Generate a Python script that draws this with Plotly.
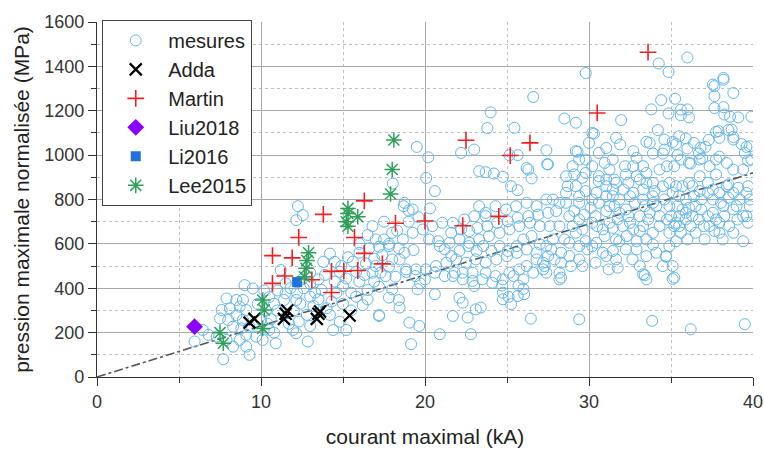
import plotly.graph_objects as go

# --- data (courant kA, pression MPa) ---

mesures = [
    # haut droite
    (34.25, 1413), (34.85, 1375), (36.0, 1440), (38.2, 1340), (37.65, 1311), (37.65, 1266),
    (38.8, 1280), (34.4, 1248), (35.25, 1254), (33.8, 1206), (36.0, 1206), (37.65, 1212),
    (38.2, 1216), (34.85, 1188), (35.6, 1180), (29.8, 1370), (26.6, 1262), (28.5, 1165),
    (29.2, 1146), (25.45, 1123), (31.96, 1158), (30.3, 1097), (30.0, 1055), (27.4, 1022),
    (27.45, 959), (26.3, 935), (29.3, 1015), (26.5, 895), (36.1, 1170), (38.6, 1173),
    (39.1, 1170), (39.9, 1173), (34.2, 1113), (35.1, 1060), (33.5, 1060), (33.9, 1007),
    (34.5, 1007), (35.9, 1075), (36.0, 1030), (36.7, 1007), (37.3, 1068), (37.75, 1105),
    (38.5, 1113), (38.8, 1082), (39.3, 1050), (39.6, 1037), (37.95, 993), (37.1, 1037),
    (35.3, 1050), (35.4, 1000), (36.2, 962), (36.9, 985), (37.55, 1318), (38.2, 1348),
    (38.25, 1183), (35.6, 1205), (38.7, 1115), (37.9, 1108), (37.95, 1078), (38.8, 1070),
    (39.5, 1010), (39.8, 1040), (39.9, 980), (24.0, 1193), (23.8, 1122), (30.2, 1100),
    (31.65, 1078), (31.05, 1032), (31.9, 1048), (32.7, 1018), (33.7, 1055), (34.6, 1070),
    (35.5, 1085), (36.4, 1055), (36.8, 1033), (34.6, 1025),
    # 18-40 kA, 800-1040 MPa
    (19.5, 1037), (20.2, 990), (23.0, 1025), (22.2, 1010), (27.5, 958), (26.2, 942),
    (24.75, 902), (25.25, 860), (25.65, 842), (23.3, 928), (23.7, 923), (24.2, 917),
    (20.07, 897), (20.6, 838), (29.2, 1018), (29.4, 980), (29.8, 980), (29.0, 950),
    (30.2, 950), (30.6, 1010), (30.95, 965), (31.45, 980), (31.25, 935), (32.2, 950),
    (32.7, 950), (32.9, 988), (33.3, 950), (33.5, 920), (28.6, 905), (29.6, 898),
    (30.6, 883), (31.05, 890), (31.65, 875), (32.4, 875), (33.1, 890), (33.9, 875),
    (34.3, 935), (34.75, 950), (35.2, 950), (35.6, 980), (36.1, 965), (36.75, 980),
    (37.35, 950), (37.75, 980), (38.4, 965), (38.8, 935), (39.4, 935), (39.7, 975),
    (18.04, 872), (25.15, 1000), (25.65, 1000),
    # amas 34-40 kA
    (34.9, 875), (35.3, 860), (35.7, 860), (36.1, 875), (35.1, 830), (35.5, 815),
    (35.9, 800), (35.4, 770), (35.7, 755), (36.1, 763), (36.5, 770), (35.5, 725),
    (35.9, 710), (36.3, 725), (35.5, 680), (36.2, 680), (36.7, 710), (37.0, 680),
    (36.85, 800), (37.25, 830), (37.55, 800), (37.95, 830), (38.4, 860), (38.8, 830),
    (39.2, 800), (39.6, 830), (39.8, 770), (39.4, 725), (38.8, 755), (38.2, 770),
    (37.55, 740), (37.65, 658), (38.15, 620), (37.95, 650), (39.7, 695), (37.25, 875),
    (37.75, 913), (36.75, 905), (38.5, 868),
    (35.3, 612), (35.2, 680), (35.6, 650), (36.0, 620), (36.5, 650), (37.05, 620),
    (37.35, 680), (37.95, 695), (38.55, 680), (39.05, 710), (39.6, 725), (38.8, 650),
    (39.4, 612), (38.5, 808), (39.1, 853), (39.7, 860), (39.8, 800), (39.0, 770),
    (36.85, 755), (37.25, 725), (37.75, 710), (38.25, 725), (34.9, 770), (35.0, 725),
    (35.3, 695), (35.9, 740), (36.4, 815), (36.3, 860), (36.75, 838), (37.55, 845),
    (38.05, 785), (34.9, 650), (34.9, 590),
    # 28-35 kA
    (28.6, 830), (29.2, 860), (29.8, 838), (30.45, 830), (31.05, 860), (31.45, 815),
    (32.1, 845), (32.7, 830), (33.3, 845), (33.9, 815), (29.4, 785), (30.1, 763),
    (30.6, 785), (31.25, 770), (31.85, 740), (32.4, 725), (33.1, 725), (33.7, 740),
    (34.3, 725), (34.75, 710), (28.8, 725), (29.4, 710), (30.2, 695), (30.85, 665),
    (31.45, 672), (32.05, 680), (32.7, 665), (33.3, 680), (33.9, 650), (28.2, 680),
    (28.5, 620), (29.2, 650), (29.8, 612), (30.45, 605), (30.95, 635), (31.65, 620),
    (32.3, 635), (32.9, 612), (33.5, 620), (33.9, 597), (28.8, 545), (29.4, 530),
    (29.9, 575), (30.85, 560), (31.45, 568), (31.75, 493), (32.9, 575), (33.3, 463),
    (33.5, 440), (34.7, 545), (35.1, 500), (35.2, 448), (28.2, 470), (28.3, 448),
    (29.4, 260), (26.45, 263), (33.85, 253), (36.2, 215), (39.5, 238),
    (33.4, 459), (35.1, 442), (34.7, 542),
    (28.6, 785), (29.1, 748), (29.7, 732), (30.4, 725), (31.05, 748), (31.55, 770),
    (32.25, 755), (32.8, 785), (33.4, 770), (34.1, 770), (34.6, 800), (34.5, 860),
    (34.0, 838), (31.55, 890), (32.25, 913), (32.9, 905), (33.5, 875), (30.6, 905),
    (29.8, 920), (29.1, 913), (28.7, 860), (31.45, 845), (29.4, 815), (30.2, 800),
    (31.05, 815), (31.85, 800), (32.5, 815), (33.3, 800), (33.9, 785), (29.0, 680),
    (29.6, 665), (30.5, 680), (31.25, 695), (31.75, 710), (32.5, 695), (33.1, 658),
    (33.6, 710), (34.3, 680), (30.2, 590), (31.05, 545), (31.65, 530), (32.25, 575),
    (31.85, 612), (29.4, 590), (28.8, 605), (28.3, 560), (27.9, 530), (27.7, 575),
    (28.3, 515), (28.9, 500), (29.6, 500), (30.4, 515), (31.2, 485), (32.65, 530),
    (33.5, 545), (34.1, 560), (34.5, 500), (33.1, 500),
    # 17-28 kA
    (23.3, 770), (23.7, 740), (24.3, 770), (24.95, 755), (25.55, 770), (26.2, 785),
    (26.8, 770), (27.4, 800), (27.8, 800), (28.2, 785), (23.0, 725), (22.4, 710),
    (21.7, 695), (21.05, 695), (20.45, 680), (19.87, 665), (19.25, 650), (20.25, 620),
    (20.9, 590), (21.5, 605), (22.1, 620), (22.7, 605), (23.3, 620), (23.9, 635),
    (24.55, 650), (25.15, 665), (25.75, 680), (26.4, 695), (27.0, 680), (27.6, 680),
    (27.8, 620), (27.4, 590), (26.8, 560), (26.2, 575), (25.6, 560), (25.0, 545),
    (24.35, 530), (23.7, 515), (23.1, 530), (22.5, 515), (21.9, 530), (21.3, 515),
    (20.67, 500), (20.05, 485), (19.45, 485), (21.7, 455), (22.3, 470), (22.9, 470),
    (23.7, 470), (24.3, 455), (25.15, 470), (25.75, 485), (26.2, 500), (26.8, 530),
    (27.2, 515), (27.2, 485), (23.0, 410), (22.1, 357), (22.3, 335), (23.1, 305),
    (23.4, 313), (22.6, 268), (22.8, 193), (21.7, 275), (24.75, 380), (25.25, 328),
    (25.65, 365), (26.05, 373), (24.75, 350), (20.9, 193), (19.15, 148), (19.65, 230),
    (19.05, 245), (18.45, 313), (17.8, 358), (19.55, 395), (20.6, 373), (27.4, 470),
    (28.2, 440), (18.75, 785), (19.25, 755), (18.0, 650), (17.5, 620), (18.65, 620),
    (18.75, 560), (18.0, 530), (17.6, 455), (18.0, 395), (17.2, 275),
    (25.1, 361), (24.7, 412), (25.7, 412), (26.0, 397),
    (20.8, 612), (21.2, 575), (21.6, 545), (22.1, 568), (22.65, 590), (23.15, 568),
    (23.55, 590), (24.05, 568), (24.55, 590), (25.05, 568), (25.6, 590), (26.0, 620),
    (26.5, 635), (27.0, 598), (27.5, 545), (27.3, 500), (26.6, 470), (26.0, 440),
    (25.4, 455), (24.75, 440), (24.1, 425), (23.5, 440), (22.9, 433), (22.3, 440),
    (21.8, 470), (21.2, 455), (20.6, 470), (20.0, 440), (19.4, 455), (18.85, 485),
    (18.45, 530), (17.8, 590), (21.6, 650), (22.2, 665), (22.7, 658), (23.2, 672),
    (23.8, 680), (24.4, 695), (25.05, 702), (25.65, 718), (26.3, 725), (26.9, 732),
    (27.5, 740), (28.0, 748), (23.7, 725),
    # 5-12 kA
    (9.0, 414), (9.5, 399), (7.9, 354), (8.5, 347), (8.9, 347), (7.6, 302),
    (8.1, 309), (8.7, 317), (9.1, 302), (7.5, 264), (8.0, 257), (8.5, 279),
    (8.9, 257), (8.3, 227), (8.8, 219), (9.3, 227), (6.45, 212), (5.95, 160),
    (7.9, 167), (8.3, 137), (8.7, 167), (9.1, 137), (9.3, 100), (7.7, 80),
    (10.1, 167), (10.9, 152), (10.5, 212), (7.3, 182), (6.8, 190), (9.1, 190),
    (9.7, 182), (11.4, 347), (11.2, 482), (11.5, 422),
    # 10-20 kA
    (12.25, 770), (14.2, 556), (14.5, 519), (13.8, 519), (14.8, 474), (15.2, 444),
    (15.8, 474), (16.4, 512), (16.9, 534), (17.4, 549), (17.2, 587), (18.4, 580),
    (19.3, 572), (17.8, 497), (18.2, 452), (18.85, 474), (19.7, 422), (17.2, 407),
    (16.5, 392), (15.8, 362), (16.2, 324), (14.8, 249), (14.4, 212), (15.2, 212),
    (17.2, 279), (18.4, 347), (13.7, 392), (13.0, 362), (12.15, 347), (11.5, 377),
    (12.15, 197), (12.85, 160), (11.95, 212), (12.15, 707), (12.55, 730), (18.7, 770),
    (19.0, 750), (10.3, 300), (10.6, 260), (10.8, 330), (11.0, 390), (12.0, 300),
    (12.4, 330), (12.8, 280), (13.2, 320), (13.5, 350), (14.0, 310), (14.3, 340),
    (14.6, 380), (15.0, 410), (15.5, 380), (16.0, 430), (16.3, 460), (16.8, 470),
    (17.0, 500), (13.0, 420), (12.6, 400), (10.0, 260), (10.4, 240), (16.0, 600),
    (16.5, 640), (17.0, 620), (17.8, 600), (18.3, 660), (19.0, 700), (19.6, 720),
    (20.3, 760), (17.5, 700), (16.8, 680),
    (10.2, 390), (10.5, 360), (11.0, 300), (11.8, 400), (12.2, 380), (12.5, 440),
    (13.0, 470), (13.5, 440), (13.9, 460), (14.5, 430), (14.9, 500), (15.3, 540),
    (15.6, 520), (16.0, 560), (16.6, 580), (13.3, 380), (14.2, 280), (15.5, 300),
    (16.5, 350), (11.7, 240), (12.3, 250), (13.0, 230), (10.8, 200), (9.8, 330),
    (16.9, 430), (17.3, 470), (15.0, 330),
]

adda = [(9.3, 245), (9.6, 262), (11.4, 262), (11.5, 285), (11.6, 300),
        (13.4, 262), (13.5, 285), (13.6, 295), (15.4, 277)]

martin = [(10.7, 547), (10.7, 422), (11.45, 455), (11.9, 537), (12.3, 629), (13.1, 438),
          (13.8, 733), (14.3, 476), (14.3, 381), (15.05, 477), (15.7, 629), (15.9, 480),
          (16.3, 794), (16.3, 557), (17.4, 510), (18.2, 693), (20.0, 703), (22.3, 682),
          (24.5, 724), (22.5, 1067), (25.2, 998), (26.4, 1055), (30.5, 1190), (33.6, 1464)]

liu2018 = [(5.95, 227)]
li2016 = [(12.2, 428)]

lee2015 = [(7.5, 200), (7.7, 152), (10.1, 347), (10.2, 302), (10.1, 219), (12.65, 452),
           (12.75, 490), (12.8, 525), (12.9, 560), (15.2, 700), (15.3, 680), (15.3, 737),
           (15.3, 760), (15.9, 722), (17.9, 825), (18.0, 935), (18.1, 1068)]

fit_x = [0, 40]
fit_y = [0, 920]

x_ticks = [0, 10, 20, 30, 40]
y_ticks = [0, 200, 400, 600, 800, 1000, 1200, 1400, 1600]


def xs(pts):
    return [p[0] for p in pts]


def ys(pts):
    return [p[1] for p in pts]


fig = go.Figure()

fig.add_trace(go.Scatter(
    x=fit_x, y=fit_y, mode="lines", showlegend=False, hoverinfo="skip",
    line=dict(color="#555555", width=1.6, dash="dashdot"),
))

fig.add_trace(go.Scatter(
    x=xs(mesures), y=ys(mesures), mode="markers", name="mesures",
    marker=dict(symbol="circle-open", size=11, color="rgb(100,182,236)",
                line=dict(width=1, color="rgb(100,182,236)")),
))
fig.add_trace(go.Scatter(
    x=xs(adda), y=ys(adda), mode="markers", name="Adda",
    marker=dict(symbol="x-thin", size=12, color="black", line=dict(width=2.2, color="black")),
))
fig.add_trace(go.Scatter(
    x=xs(martin), y=ys(martin), mode="markers", name="Martin",
    marker=dict(symbol="cross-thin", size=12, color="#f02020", line=dict(width=1.6, color="#f02020")),
))
fig.add_trace(go.Scatter(
    x=xs(liu2018), y=ys(liu2018), mode="markers", name="Liu2018",
    marker=dict(symbol="diamond", size=13, color="#8a00ff"),
))
fig.add_trace(go.Scatter(
    x=xs(li2016), y=ys(li2016), mode="markers", name="Li2016",
    marker=dict(symbol="square", size=10, color="#2070e0"),
))
fig.add_trace(go.Scatter(
    x=xs(lee2015), y=ys(lee2015), mode="markers", name="Lee2015",
    marker=dict(symbol="asterisk-open", size=13, color="#2ea05a",
                line=dict(width=1.5, color="#2ea05a")),
))

axis_common = dict(
    showline=True, linecolor="#333333", linewidth=1.2,
    ticks="outside", ticklen=8, tickcolor="#333333",
    showgrid=True, gridcolor="#a8a8a8", gridwidth=1,
    zeroline=False, mirror=False, automargin=False,
    tickfont=dict(family="Liberation Sans, Arial", size=18, color="#333333"),
)

fig.update_xaxes(
    range=[0, 40], tickvals=x_ticks, **axis_common,
    minor=dict(dtick=5, ticks="outside", ticklen=5, tickcolor="#333333",
               showgrid=True, gridcolor="#c0c0c0", griddash="dot"),
    title=dict(text="courant maximal (kA)", standoff=18,
               font=dict(family="Liberation Sans, Arial", size=21, color="#222222")),
)
fig.update_yaxes(
    range=[0, 1600], tickvals=y_ticks, **axis_common,
    minor=dict(dtick=100, ticks="outside", ticklen=5, tickcolor="#333333",
               showgrid=True, gridcolor="#c0c0c0", griddash="dot"),
    title=dict(text="pression maximale normalisée (MPa)", standoff=8,
               font=dict(family="Liberation Sans, Arial", size=21, color="#222222")),
)

fig.update_layout(
    width=764, height=452,
    margin=dict(l=97, r=11, t=22, b=75),
    plot_bgcolor="white", paper_bgcolor="white",
    legend=dict(
        x=0.008, y=1.006, xanchor="left", yanchor="top",
        bgcolor="white", bordercolor="#444444", borderwidth=1,
        font=dict(family="Liberation Sans, Arial", size=20, color="#222222"),
        tracegroupgap=0, itemwidth=55,
    ),
)

# the page body has an 8px default margin; drop it so the figure sits at 0,0
fig.write_html("out.html", config={"displayModeBar": False},
               post_script="document.body.style.margin='0';")
